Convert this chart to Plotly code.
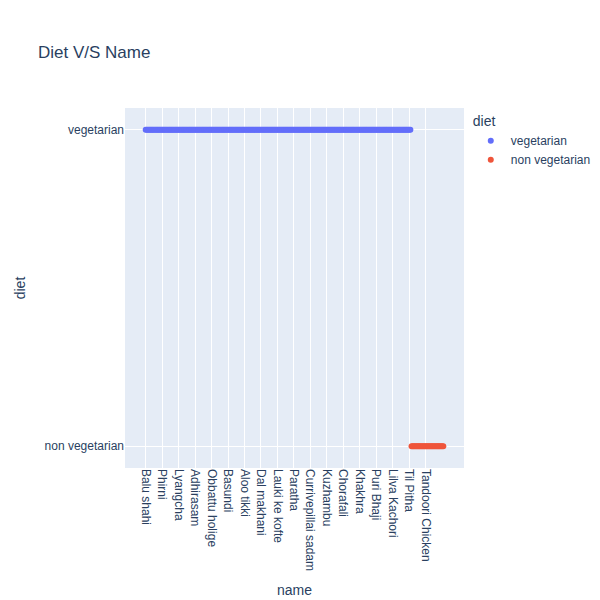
import plotly.graph_objects as go

veg_names = [
"Balu shahi","Boondi","Gajar ka halwa","Ghevar","Gulab jamun","Imarti","Jalebi","Kaju katli","Kalakand","Kheer","Laddu","Lassi","Nankhatai","Petha",
"Phirni","Rabri","Sheera","Singori","Sohan halwa","Sohan papdi","Chhena jalebi","Chhena kheeri","Chhena poda","Cham cham","Kheer sagar","Ledikeni","Malapua","Mihidana",
"Lyangcha","Misti doi","Pantua","Pithe","Rasabali","Ras malai","Rasgulla","Sandesh","Bandar laddu","Chikki","Dharwad pedha","Double ka meetha","Gavvalu","Kakinada khaja",
"Adhirasam","Ariselu","Kuzhi paniyaram","Mysore pak","Palathalikalu","Poornalu","Pongal","Pootharekulu","Qubani ka meetha","Sheer korma","Unni appam","Kajjikaya","Anarsa","Modak",
"Obbattu holige","Shankarpali","Shrikhand","Sutar feni","Puran poli","Karanji","Mohanthal","Ghari","Doodhpak","Kansar","Coconut vadi","Gud papdi","Dudhi halwa","Lapsi",
"Basundi","Chak Hao Kheer","Khaja","Mawa bati","Parwal ki mithai","Pinni","Dodha barfi","Kulfi falooda","Bebinca","Pitha","Shufta","Coconut barfi","Aloo gobi","Aloo matar",
"Aloo tikki","Aloo methi","Bhatura","Bhindi masala","Chana masala","Chapati","Chole bhature","Dal tadka","Dum aloo","Kadai paneer","Kadhi pakoda","Karela bharta","Khichdi","Kofta",
"Dal makhani","Kulfi","Lauki ki subji","Litti chokha","Makki di roti sarson da saag","Misi roti","Mixed vegetable","Naan","Navrattan korma","Palak paneer","Paneer butter masala","Paneer tikka masala","Pani puri","Panjeeri",
"Lauki ke kofte","Rajma chaval","Samosa","Shahi paneer","Shahi tukda","Poha","Aloo shimla mirch","Baati","Chana dal","Kachori","Matar paneer","Methi thepla","Moong dal halwa","Pakora",
"Paratha","Pav bhaji","Rajma masala","Sattu paratha","Tandoori roti","Vada pav","Avial","Bisi bele bath","Dosa","Idli","Masala dosa","Sambar","Upma","Uttapam",
"Currivepillai sadam","Kootu","Lemon rice","Medu vada","Rasam","Paniyaram","Pesarattu","Puliyogare","Kozhukattai","Keerai masiyal","Thayir sadam","Vangi bath","Appam","Puttu",
"Kuzhambu","Mor kuzhambu","Olan","Theeyal","Ven pongal","Kothamali sadam","Paruppu sadam","Poriyal","Sevai","Adai","Akki rotti","Ragi mudde","Neer dosa","Kadala curry",
"Chorafali","Dhokla","Dal dhokli","Gatta curry","Handvo","Kadhi","Khandvi","Khaman","Muthiya","Undhiyu","Thepla","Fafda","Dahi vada","Ker sangri",
"Khakhra","Bajri no rotlo","Sev tameta","Dal baati churma","Gatte ki sabzi","Bhakri","Amti","Misal pav","Pitla","Sabudana khichadi","Thalipeeth","Zunka","Bharli vangi","Koshimbir",
"Puri Bhaji","Sol kadhi","Varan bhaat","Batata vada","Kanda poha","Ragda pattice","Alu pitika","Aloo posto","Bora sawul","Dalma","Ghugni","Khar","Luchi","Chhena gaja",
"Lilva Kachori","Shukto","Panta bhat","Dhuska","Singju","Pakhala","Galho","Thukpa","Chak-hao amubi","Iromba","Sattu ki roti","Bhaja","Koat pitha","Litti",
"Til Pitha","Pani pitha",
]
nonveg_names = [
"Chicken Tikka masala","Biryani","Butter chicken","Chicken razala","Chicken tikka","Galouti kebab","Keema","Kolhapuri chicken","Rogan josh","Nihari","Shami kebab","Daab chingri",
"Tandoori Chicken","Tandoori fish tikka","Chicken 65","Chicken chettinad","Fish molee","Goan fish curry","Prawn malai curry","Machher jhol","Kosha mangsho","Chingri malai curry","Sorse ilish","Bhapa ilish","Pork vindaloo","Laal maas","Chicken xacuti","Egg curry",
]
tick_labels = ["Balu shahi","Phirni","Lyangcha","Adhirasam","Obbattu holige","Basundi","Aloo tikki","Dal makhani",
               "Lauki ke kofte","Paratha","Currivepillai sadam","Kuzhambu","Chorafali","Khakhra","Puri Bhaji",
               "Lilva Kachori","Til Pitha","Tandoori Chicken"]

all_names = veg_names + nonveg_names
fig = go.Figure()
fig.add_trace(go.Scatter(x=veg_names, y=["vegetarian"]*len(veg_names), mode="markers",
                         name="vegetarian", marker=dict(color="#636efa"), legendgroup="vegetarian"))
fig.add_trace(go.Scatter(x=nonveg_names, y=["non vegetarian"]*len(nonveg_names), mode="markers",
                         name="non vegetarian", marker=dict(color="#EF553B"), legendgroup="non vegetarian"))
fig.update_layout(
    template="plotly", width=600, height=600,
    font=dict(family="Liberation Sans, Arial, sans-serif"),
    title=dict(text="Diet V/S Name"),
    legend=dict(title=dict(text="diet"), tracegroupgap=0),
    xaxis=dict(title=dict(text="name"), categoryorder="array", categoryarray=all_names,
               tickmode="array", tickvals=tick_labels, ticktext=tick_labels, tickangle=90),
    yaxis=dict(title=dict(text="diet"), categoryorder="array", categoryarray=["non vegetarian", "vegetarian"]),
)
fig.write_html("out.html")
